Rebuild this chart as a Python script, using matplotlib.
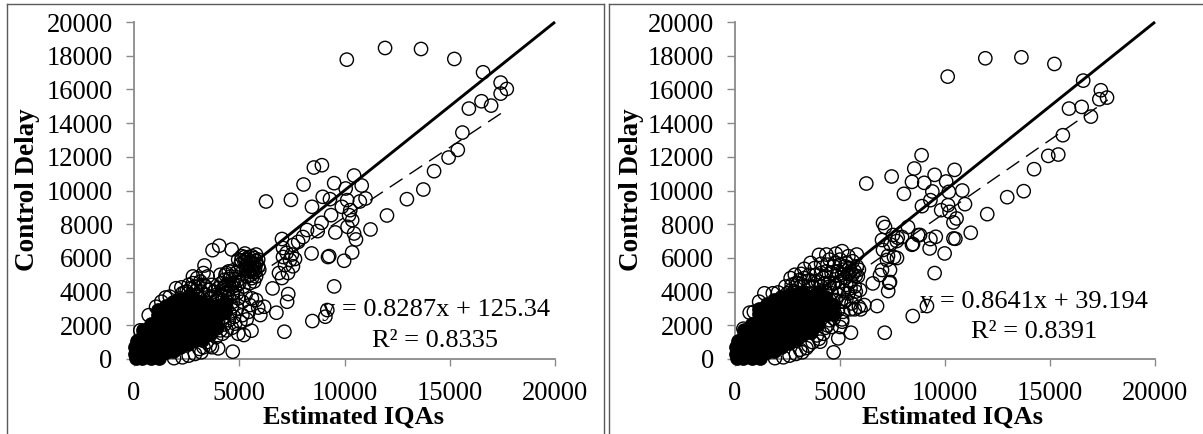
import numpy as np
import matplotlib
matplotlib.use('Agg')
import matplotlib.pyplot as plt
from matplotlib.lines import Line2D

W, H = 1203, 434

# sparse points (estimated IQAs, control delay)
left_rings = [
    (10109,17766),(11927,18458),(13636,18398),(15218,17806),(16582,17015),(17418,16403),
    (17709,16027),(17418,15750),(16509,15296),(16964,15039),(15909,14862),(15600,13439),
    (15382,12411),(14945,11957),(14255,11146),(13745,10059),(12964,9486),(12018,8518),
    (11236,7688),(10455,10889),(10818,10296),(9509,10435),(10055,10119),(8545,11364),
    (8927,11502),(8055,10356),(6273,9348),(7455,9447),(8455,9032),(8964,9625),(9309,9486),
    (11000,9526),(10727,9348),(10127,9427),(9873,9032),(9364,8538),(10273,8834),(10218,8538),
    (10364,8241),(8909,8083),(8727,7589),(9564,7510),(10145,7846),(10455,7450),(10545,7095),
    (10364,6324),(9982,5830),(9273,6107),(9216,6053),(8436,6265),(9509,4308),(8473,2253),
    (9091,2510),(9182,2905),(7145,1620),(6764,2747),(7327,3854),(7273,3399),(6582,4190),
    (6000,2609),(6182,3103),(5582,1680),(5218,1423),(4691,435),(4000,632),
    (7030,7121),(7078,6587),(7553,6765),(8029,7240),(8219,7656),(7800,6950),(7078,6053),
    (7411,5875),(7648,5935),(7173,5578),(7316,5104),(6888,5104),(7030,4807),(7500,6200),
    (7250,6300),(7550,5500),(3730,6460),(4050,6720),(4640,6500),(5270,6260),(5800,6200),
    (4950,5900),(5120,6100),(5400,5900),(5600,5700),(5250,5750),(5050,5600),(5800,5800),
    (5650,5400),(5450,5200),(5300,5500),(5900,5500),(5550,5000),(5750,5150),(5500,5800),
    (5700,6000),(5200,5300),(3350,5550),(3300,5100),(2800,4900),(3000,4800),(3150,4600),
    (3500,4900),(2600,4400),(2250,4250),(2000,4200),(2400,3950),(1700,3700),(1500,3650),
    (1300,3400),(1050,3100),(700,2600),(300,1700),(4100,5000),(4400,5100),(4600,4900),
    (4300,4700),(4500,4400),(4150,4500),(4700,4500),(4000,4200),(4350,4100),(4800,4200),
    (5000,4500),(5200,4300),(4900,3900),(5300,3800),(5600,3600),(5800,3500),(5500,3200),
    (5900,3050),(5450,2800),(5150,2600),(4900,3000),(4700,3400),(4500,3700),(4200,3500),
    (3900,3800),(3700,4400),(3400,4300),(3200,4000),(3600,3600),(4000,3100),(4400,3000),
    (4750,2500),(4500,2300),(4300,2050),(4650,1850),(4950,1500),(3700,700),(3200,400),
    (3450,1000),(3900,1300),(4100,1700),(3750,2100),(2900,4300),(2700,3800),(2200,3600),
]
# the thicker part of the cloud on the left panel
left_cloud = [
    (5300,5900),(5450,6050),(5600,6100),(5700,5600),(5500,5500),(5350,5350),(5650,5150),
    (5750,5350),(5800,5650),(5550,5300),(5400,5650),(5100,5850),(5250,6050),(5900,5900),
    (5950,5300),(5600,4800),(5800,4900),(5700,4600),(5400,4900),(5500,4500),(4500,5200),
    (4700,5250),(4850,5100),(4350,5000),(4550,4750),(4800,4750),(4400,4400),(4650,4300),
    (4900,4400),(4250,4200),(4150,3800),(4450,3900),(4700,3900),(4950,3600),(5150,3400),
    (4400,3400),(4650,3100),(4200,3200),(3800,4000),(3550,4100),(3300,4400),(3050,4300),
    (2800,4500),(2950,4050),(2500,4000),(2300,3900),(2700,4200),(3400,3800),(3700,3700),
    (3000,3700),(3900,3400),(4550,2700),(4250,2500),(4000,2300),(3900,1800),(4200,1500),
    (4400,1700),(3600,800),(3300,700),(2900,300),(2600,200),(2300,100),(3100,600),(1900,50),
    (4150,2750),(5050,2200),(4800,2100),(5350,2350),
]
left_core = [
    (30,300),(30,700),(100,30),(400,30),(800,40),(1200,60),
    (150,150),(150,450),(150,750),(150,1050),(450,200),(450,500),(450,800),(450,1100),
    (450,1400),(450,1700),(800,250),(800,550),(800,850),(800,1150),(800,1450),(800,1750),
    (800,2050),(1150,300),(1150,700),(1150,1100),(1150,1500),(1150,1900),(1150,2300),
    (1150,2600),(1150,2900),(1500,400),(1500,800),(1500,1200),(1500,1600),(1500,2000),
    (1500,2400),(1500,2800),(1500,3150),(1850,500),(1850,900),(1850,1300),(1850,1700),
    (1850,2100),(1850,2500),(1850,2950),(1850,3400),(2200,700),(2200,1100),(2200,1500),
    (2200,1900),(2200,2300),(2200,2700),(2200,3100),(2200,3500),(2550,900),(2550,1300),
    (2550,1700),(2550,2100),(2550,2500),(2550,2900),(2550,3200),(2550,3650),(2900,1100),
    (2900,1500),(2900,1900),(2900,2300),(2900,2700),(2900,3100),(2900,3500),(3250,1100),
    (3250,1400),(3250,1800),(3250,2200),(3250,2600),(3250,3000),(3250,3400),(3600,1500),
    (3600,1800),(3600,2200),(3600,2700),(3600,3200),(3950,1900),(3950,2500),(3950,3000),
    (4300,2800),(4300,3300),
]
right_rings = [
    (10128,16759),(11920,17846),(13638,17905),(15210,17510),(16581,16522),(17422,15949),
    (17715,15514),(17349,15415),(16508,14960),(16947,14387),(15905,14862),(15612,13281),
    (15393,12134),(14918,12055),(14241,11265),(13748,9960),(12961,9604),(12011,8597),
    (11225,7490),(10457,11225),(10823,10000),(9506,10929),(10055,10534),(8537,11304),
    (8885,12095),(8044,9802),(6252,10415),(7459,10830),(8428,10514),(9012,10455),(9397,9941),
    (9305,9427),(8903,9071),(10951,9190),(10183,9921),(10146,9130),(9817,8834),(10219,8735),
    (10549,8340),(10402,8103),(8720,7352),(9561,7253),(9305,7115),(10402,7154),(10494,7134),
    (9269,6561),(9982,6265),(8428,6779),(9506,5099),(8464,2549),(9141,3142),(7130,1561),
    (6764,3142),(7294,4032),(7349,4526),(6563,4486),(5978,2945),(6160,3200),(5521,1561),
    (4918,1225),(4698,395),(5100,2213),(4058,1028),
    (7048,8071),(7143,7834),(7000,7062),(7524,7359),(7952,7240),(8238,7834),(8810,7359),
    (8476,6825),(7048,6469),(7286,6113),(7714,5994),(7571,6050),(7238,5875),(7000,5282),
    (7381,5282),(6905,4985),(7381,4570),(7700,7000),(7400,6800),(7750,7200),
    (3600,5700),(4000,6180),(4350,6200),(4800,6250),(5100,6400),(5400,6100),(5800,6200),
    (3300,5350),(2850,5000),(2650,4800),(3150,5050),(4500,5900),(4750,5700),(5000,5900),
    (5300,5700),(5600,5800),(5800,5500),(5450,5400),(5150,5300),(4900,5200),(5600,5000),
    (5850,4900),(5500,4600),(5250,4800),(5700,4300),(5950,4100),(5400,3900),(5700,3700),
    (5900,3100),(5500,2950),(5700,2950),(5200,3400),(4950,3800),(5100,2350),(4750,2700),
    (4500,2300),(4600,1900),(4300,1850),(4000,1200),(3700,1000),(3200,400),(3400,650),
    (2800,3900),(2050,3950),(1800,3900),(1400,3900),(1150,3400),(900,2800),(700,2750),
    (400,1800),(2400,4300),(2650,4050),(3000,4500),(4200,4800),(4500,4500),(4100,4300),
    (3800,4600),(3500,4300),
]
right_cloud = [
    (3800,5400),(4100,5650),(4400,5600),(4700,5500),(5000,5600),(5250,5500),(5500,5200),
    (5700,5200),(5900,5300),(5750,4950),(5400,5050),(5100,5000),(4850,4950),(4600,5100),
    (4350,5200),(4100,5100),(3850,5000),(3550,5000),(3300,4800),(3100,4700),(2900,4500),
    (2700,4400),(3250,4300),(3500,4650),(3700,4300),(3950,4600),(4250,4500),(4500,4300),
    (4750,4500),(5000,4600),(5300,4400),(5500,4200),(5750,4000),(4300,4000),(4600,3900),
    (4900,4200),(5200,4050),(4800,3500),(5050,3400),(4500,3500),(5300,3500),(5550,3300),
    (4300,2900),(4650,3000),(4900,2900),(5150,2800),(4700,2400),(4450,2650),(5000,1900),
    (4400,2000),(4200,1500),(3900,1400),(3500,800),(2900,300),(2600,200),(2300,100),
    (1900,50),(3100,550),(3700,3700),(3400,3900),(3100,3900),(2800,4000),(2500,3900),
    (4000,3900),(3800,3600),
]
right_core = [
    (30,300),(30,700),(100,30),(400,30),(800,40),(1200,60),
    (150,150),(150,450),(150,750),(150,1050),(450,200),(450,500),(450,800),(450,1100),
    (450,1400),(450,1700),(800,250),(800,550),(800,850),(800,1150),(800,1450),(800,1750),
    (800,2100),(1150,300),(1150,700),(1150,1100),(1150,1500),(1150,1900),(1150,2300),
    (1150,2650),(1150,2950),(1500,400),(1500,800),(1500,1200),(1500,1600),(1500,2000),
    (1500,2400),(1500,2900),(1500,3250),(1850,500),(1850,900),(1850,1300),(1850,1700),
    (1850,2100),(1850,2500),(1850,3050),(1850,3500),(2200,700),(2200,1100),(2200,1500),
    (2200,1900),(2200,2300),(2200,2700),(2200,3250),(2200,3650),(2550,950),(2550,1300),
    (2550,1700),(2550,2100),(2550,2500),(2550,2900),(2550,3400),(2550,3800),(2900,1200),
    (2900,1600),(2900,2000),(2900,2400),(2900,2800),(2900,3300),(2900,3700),(3250,1500),
    (3250,1900),(3250,2300),(3250,2700),(3250,3100),(3250,3600),(3250,3900),(3600,1600),
    (3600,2000),(3600,2400),(3600,2800),(3600,3200),(3600,3700),(3950,2100),(3950,2500),
    (3950,3000),(3950,3500),(3950,3950),(4300,2700),(4300,3200),(4300,3700),(4650,2700),
    (4650,3200),
]

identity_line = [0, 20000]
left_trend_x = [0, 17750]
left_trend_y = [125, 14835]
right_trend_x = [0, 17750]
right_trend_y = [39, 15377]

axis_ticks = [0, 5000, 10000, 15000, 20000]
delay_ticks = list(range(0, 20001, 2000))

plt.rcParams['font.family'] = ['Liberation Serif', 'DejaVu Serif']


def px_rect(x0, x1, y_top, y_bottom):
    return [x0 / W, 1 - y_bottom / H, (x1 - x0) / W, (y_bottom - y_top) / H]


def draw_panel(fig, rect, rings, core, trend_x, trend_y):
    ax = fig.add_axes(rect)
    ax.patch.set_alpha(0)
    ax.set_xlim(0, 20000)
    ax.set_ylim(0, 20000)
    ax.plot(identity_line, identity_line, color='black', lw=2.1, solid_capstyle='butt', clip_on=False)
    ax.plot(trend_x, trend_y, color='black', lw=1.0, dashes=(11, 6), clip_on=False)
    rx, ry = np.array(rings).T
    cx, cy = np.array(core).T
    ax.scatter(cx, cy, s=92, facecolors='black', edgecolors='black', linewidths=1.0, clip_on=False, zorder=3)
    ax.scatter(rx, ry, s=92, facecolors='none', edgecolors='black', linewidths=1.0, clip_on=False, zorder=3)
    for side in ['top', 'right']:
        ax.spines[side].set_visible(False)
    for side in ['left', 'bottom']:
        ax.spines[side].set_color('#8a8a8a')
        ax.spines[side].set_linewidth(1.3)
    ax.set_xticks(axis_ticks)
    ax.set_yticks(delay_ticks)
    ax.tick_params(axis='x', length=5, width=1.0, color='#8a8a8a', labelsize=19.2, pad=11)
    ax.tick_params(axis='y', length=5.8, width=1.0, color='#8a8a8a', labelsize=19.2, pad=9.5)
    return ax


fig = plt.figure(figsize=(W / 100, H / 100), dpi=100)

draw_panel(fig, px_rect(134, 555, 22, 359), left_rings + left_cloud, left_core, left_trend_x, left_trend_y)
draw_panel(fig, px_rect(735, 1155, 22, 359), right_rings + right_cloud, right_core, right_trend_x, right_trend_y)


def label(x, y, s, **kw):
    fig.text(x / W, 1 - y / H, s, ha='center', va='center', **kw)


label(353, 417, 'Estimated IQAs', fontsize=19, fontweight='bold')
label(953, 417, 'Estimated IQAs', fontsize=19, fontweight='bold')
label(28, 190, 'Control Delay', fontsize=19.5, fontweight='bold', rotation=90)
label(631, 190, 'Control Delay', fontsize=19.5, fontweight='bold', rotation=90)
label(436, 310, 'y = 0.8287x + 125.34', fontsize=19)
label(435, 341, 'R² = 0.8335', fontsize=19)
label(1034, 302, 'y = 0.8641x + 39.194', fontsize=19)
label(1034, 332, 'R² = 0.8391', fontsize=19)

# panel frames
frame_lines = [
    ([7, 7], [4, 434]), ([7, 604], [4, 4]), ([604, 604], [4, 434]),
    ([609, 609], [4, 434]), ([609, 1203], [4, 4]),
]
for xs, ys in frame_lines:
    fig.add_artist(Line2D(np.array(xs) / W, 1 - np.array(ys) / H, color='#5a5a5a', lw=1.0))

fig.savefig('out.png', dpi=100)
